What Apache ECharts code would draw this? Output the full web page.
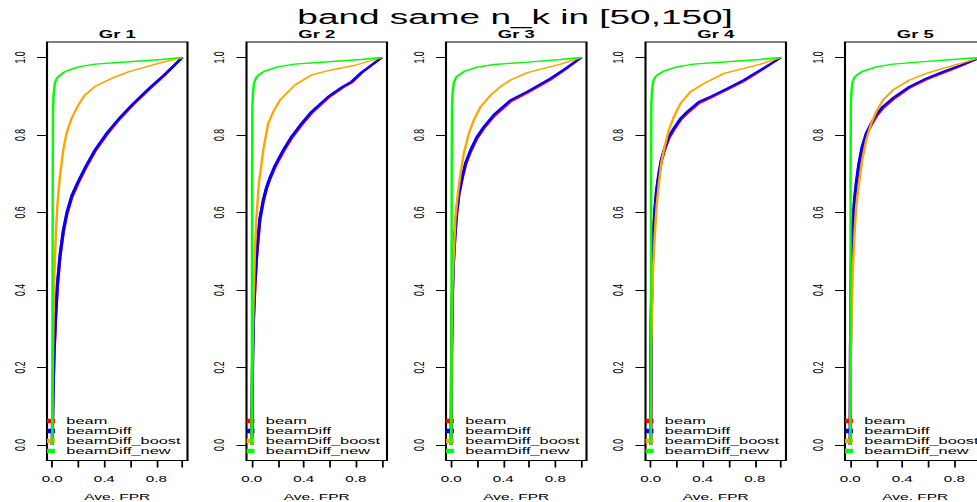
<!DOCTYPE html>
<html>
<head>
<meta charset="utf-8">
<script src="https://cdn.jsdelivr.net/npm/echarts@6/dist/echarts.min.js"></script>
<style>
  html, body { margin: 0; padding: 0; overflow: hidden; background: #fff; }
  #wrap { width: 977px; height: 502px; overflow: hidden; }
  /* the plot device is wider than tall: text and lines are drawn on a narrow
     canvas and stretched horizontally */
  #chart { width: 555px; height: 502px; transform: scaleX(1.76036); transform-origin: 0 0; }
</style>
</head>
<body>
<div id="wrap"><div id="chart"></div></div>
<script>
// ---- data ----
const mainTitle = 'band same n_k in [50,150]';
const groupTitles = ['Gr 1', 'Gr 2', 'Gr 3', 'Gr 4', 'Gr 5'];
const methodNames = ['beam', 'beamDiff', 'beamDiff_boost', 'beamDiff_new'];
const methodColors = ['#ff0000', '#0000ff', '#ffa500', '#00ff00'];
const xTicks = [0, 0.2, 0.4, 0.6, 0.8, 1];
const xTickLabels = [0, 0.4, 0.8];
const yTicks = [0, 0.2, 0.4, 0.6, 0.8, 1];
const xTitle = 'Ave. FPR';

// ROC curves: [Ave. FPR, Ave. TPR]
const gr1Beam = [[0,0],[0.003,0.066],[0.008,0.155],[0.015,0.24],[0.026,0.326],[0.04,0.41],[0.06,0.485],[0.085,0.548],[0.113,0.595],[0.15,0.638],[0.2,0.676],[0.26,0.716],[0.33,0.758],[0.42,0.801],[0.52,0.842],[0.62,0.877],[0.75,0.919],[0.86,0.953],[1,1]];
const gr1BeamDiff = [[0,0],[0.003,0.07],[0.008,0.16],[0.015,0.245],[0.026,0.33],[0.04,0.415],[0.06,0.49],[0.085,0.553],[0.113,0.6],[0.15,0.643],[0.2,0.68],[0.26,0.72],[0.33,0.762],[0.42,0.805],[0.52,0.845],[0.62,0.88],[0.75,0.922],[0.86,0.955],[1,1]];
const gr1Boost = [[0,0],[0.003,0.159],[0.008,0.288],[0.015,0.417],[0.028,0.546],[0.041,0.624],[0.059,0.692],[0.085,0.761],[0.11,0.804],[0.149,0.843],[0.2,0.877],[0.251,0.903],[0.328,0.925],[0.456,0.946],[0.585,0.963],[0.713,0.975],[0.85,0.988],[1,1]];
const gr1New = [[0,0],[0.002,0.3],[0.004,0.7],[0.006,0.86],[0.01,0.9],[0.02,0.933],[0.035,0.946],[0.059,0.954],[0.09,0.962],[0.123,0.967],[0.2,0.976],[0.33,0.983],[0.59,0.989],[0.84,0.995],[1,1]];

const gr2Beam = [[0,0],[0.002,0.068],[0.007,0.222],[0.014,0.326],[0.025,0.412],[0.037,0.481],[0.045,0.515],[0.063,0.58],[0.089,0.628],[0.114,0.661],[0.14,0.686],[0.178,0.716],[0.243,0.757],[0.307,0.792],[0.384,0.826],[0.46,0.856],[0.589,0.896],[0.7,0.922],[0.768,0.935],[0.845,0.96],[1,1]];
const gr2BeamDiff = [[0,0],[0.002,0.073],[0.007,0.228],[0.014,0.331],[0.025,0.417],[0.037,0.486],[0.045,0.52],[0.063,0.585],[0.089,0.632],[0.114,0.665],[0.14,0.69],[0.178,0.72],[0.243,0.761],[0.307,0.796],[0.384,0.83],[0.46,0.86],[0.589,0.899],[0.7,0.925],[0.768,0.938],[0.845,0.962],[1,1]];
const gr2Boost = [[0,0],[0.002,0.073],[0.007,0.245],[0.014,0.374],[0.025,0.503],[0.037,0.589],[0.055,0.675],[0.089,0.761],[0.127,0.83],[0.166,0.86],[0.217,0.89],[0.332,0.929],[0.46,0.955],[0.589,0.966],[0.794,0.98],[1,1]];
const gr2New = [[0,0],[0.002,0.32],[0.003,0.7],[0.005,0.87],[0.009,0.905],[0.018,0.935],[0.035,0.948],[0.06,0.957],[0.1,0.965],[0.2,0.976],[0.33,0.983],[0.59,0.989],[0.84,0.995],[1,1]];

const gr3Beam = [[0,0],[0.003,0.24],[0.008,0.369],[0.015,0.455],[0.028,0.534],[0.041,0.594],[0.059,0.645],[0.085,0.688],[0.11,0.723],[0.149,0.757],[0.2,0.792],[0.251,0.817],[0.328,0.848],[0.456,0.886],[0.585,0.909],[0.764,0.943],[0.88,0.97],[1,1]];
const gr3BeamDiff = [[0,0],[0.003,0.245],[0.008,0.374],[0.015,0.46],[0.028,0.538],[0.041,0.598],[0.059,0.649],[0.085,0.692],[0.11,0.727],[0.149,0.761],[0.2,0.796],[0.251,0.821],[0.328,0.852],[0.456,0.89],[0.585,0.912],[0.764,0.946],[0.88,0.972],[1,1]];
const gr3Boost = [[0,0],[0.003,0.245],[0.01,0.417],[0.021,0.503],[0.033,0.589],[0.051,0.649],[0.072,0.701],[0.097,0.753],[0.136,0.804],[0.174,0.839],[0.226,0.873],[0.303,0.903],[0.379,0.925],[0.456,0.942],[0.585,0.961],[0.713,0.972],[0.841,0.983],[1,1]];
const gr3New = [[0,0],[0.002,0.3],[0.004,0.72],[0.006,0.87],[0.01,0.905],[0.02,0.935],[0.04,0.95],[0.06,0.955],[0.1,0.964],[0.2,0.975],[0.33,0.982],[0.59,0.988],[0.84,0.995],[1,1]];

const gr4Beam = [[0,0],[0.004,0.326],[0.012,0.455],[0.019,0.534],[0.032,0.602],[0.045,0.654],[0.063,0.697],[0.081,0.731],[0.107,0.762],[0.14,0.792],[0.178,0.813],[0.23,0.839],[0.281,0.856],[0.371,0.882],[0.46,0.896],[0.589,0.917],[0.717,0.939],[0.845,0.966],[1,1]];
const gr4BeamDiff = [[0,0],[0.004,0.331],[0.012,0.46],[0.019,0.538],[0.032,0.606],[0.045,0.658],[0.063,0.701],[0.081,0.735],[0.107,0.766],[0.14,0.796],[0.178,0.817],[0.23,0.843],[0.281,0.86],[0.371,0.886],[0.46,0.899],[0.589,0.92],[0.717,0.942],[0.845,0.968],[1,1]];
const gr4Boost = [[0,0],[0.004,0.245],[0.012,0.374],[0.019,0.46],[0.032,0.546],[0.045,0.615],[0.063,0.675],[0.081,0.727],[0.107,0.77],[0.14,0.813],[0.178,0.847],[0.23,0.882],[0.307,0.912],[0.409,0.933],[0.563,0.959],[0.717,0.972],[0.845,0.983],[1,1]];
const gr4New = [[0,0],[0.002,0.33],[0.003,0.72],[0.005,0.88],[0.009,0.91],[0.018,0.937],[0.035,0.95],[0.06,0.957],[0.1,0.965],[0.2,0.976],[0.33,0.983],[0.59,0.989],[0.84,0.995],[1,1]];

const gr5Beam = [[0,0],[0.002,0.24],[0.005,0.369],[0.01,0.481],[0.021,0.568],[0.033,0.628],[0.046,0.671],[0.067,0.723],[0.092,0.766],[0.123,0.8],[0.162,0.826],[0.2,0.848],[0.251,0.869],[0.328,0.891],[0.456,0.922],[0.585,0.943],[0.713,0.96],[0.85,0.978],[1,1]];
const gr5BeamDiff = [[0,0],[0.002,0.245],[0.005,0.374],[0.01,0.486],[0.021,0.572],[0.033,0.632],[0.046,0.675],[0.067,0.727],[0.092,0.77],[0.123,0.804],[0.162,0.83],[0.2,0.852],[0.251,0.873],[0.328,0.895],[0.456,0.925],[0.585,0.946],[0.713,0.963],[0.85,0.98],[1,1]];
const gr5Boost = [[0,0],[0.005,0.245],[0.013,0.374],[0.021,0.46],[0.033,0.546],[0.046,0.615],[0.067,0.675],[0.092,0.735],[0.123,0.787],[0.162,0.83],[0.2,0.86],[0.251,0.89],[0.328,0.916],[0.456,0.942],[0.585,0.959],[0.713,0.972],[0.85,0.985],[1,1]];
const gr5New = [[0,0],[0.002,0.32],[0.003,0.72],[0.005,0.88],[0.009,0.91],[0.018,0.937],[0.035,0.95],[0.06,0.957],[0.1,0.965],[0.2,0.976],[0.33,0.983],[0.59,0.99],[0.84,0.996],[1,1]];

const panelCurves = [
  [gr1Beam, gr1BeamDiff, gr1Boost, gr1New],
  [gr2Beam, gr2BeamDiff, gr2Boost, gr2New],
  [gr3Beam, gr3BeamDiff, gr3Boost, gr3New],
  [gr4Beam, gr4BeamDiff, gr4Boost, gr4New],
  [gr5Beam, gr5BeamDiff, gr5Boost, gr5New]
];

// ---- layout (in canvas units before the horizontal stretch) ----
const FONT = '"Liberation Sans", Arial, Helvetica, sans-serif';
const boxLeft0 = 26.7, boxStep = 113.33, boxW = 79.81, boxTop = 42, boxH = 418.5;
const lineWidths = [1.8, 1.8, 1.4, 1.4];
const fmt = v => Number(v).toFixed(1);

const chart = echarts.init(document.getElementById('chart'), null, { renderer: 'svg' });

const grid = [], xAxis = [], yAxis = [], series = [], legend = [];
const title = [{
  text: mainTitle, left: 292.6, top: 6, textAlign: 'center', padding: 0,
  textStyle: { fontFamily: FONT, fontSize: 21, fontWeight: 'normal', color: '#000' }
}];

groupTitles.forEach((gt, i) => {
  const left = boxLeft0 + boxStep * i;
  // fixed plot boxes: the last panel runs past the right edge of the device
  grid.push({ left: left, top: boxTop, width: boxW, height: boxH, show: true,
              outerBoundsMode: 'none', containLabel: false,
              borderColor: '#000', borderWidth: 1.2, backgroundColor: 'transparent' });
  title.push({ text: gt, left: left + boxW / 2, top: 28.5, textAlign: 'center', padding: 0,
               textStyle: { fontFamily: FONT, fontSize: 10.5, fontWeight: 'bold', color: '#000' } });
  xAxis.push({
    gridIndex: i, type: 'value', min: -0.04, max: 1.04,
    splitLine: { show: false },
    axisLine: { show: false, onZero: false },
    axisTick: { show: true, customValues: xTicks, length: 7, lineStyle: { color: '#000', width: 1 } },
    axisLabel: { customValues: xTickLabels, formatter: fmt, margin: 14.5, fontSize: 8.6, color: '#000', fontFamily: FONT },
    name: xTitle, nameLocation: 'middle', nameGap: 32.5,
    nameTextStyle: { fontSize: 8.8, color: '#000', fontFamily: FONT }
  });
  yAxis.push({
    gridIndex: i, type: 'value', min: -0.04, max: 1.04,
    splitLine: { show: false },
    axisLine: { show: false, onZero: false },
    axisTick: { show: true, customValues: yTicks, length: 5.7, lineStyle: { color: '#000', width: 1 } },
    axisLabel: { customValues: yTicks, formatter: fmt, rotate: 90, margin: 11, fontSize: 8.6, color: '#000', fontFamily: FONT }
  });
  panelCurves[i].forEach((curve, k) => {
    series.push({
      name: methodNames[k], type: 'line', xAxisIndex: i, yAxisIndex: i,
      data: curve, showSymbol: false, symbol: 'none', silent: true, animation: false,
      lineStyle: { color: methodColors[k], width: lineWidths[k] },
      itemStyle: { color: methodColors[k] }, z: 2 + k
    });
  });
  legend.push({
    data: methodNames, orient: 'vertical', left: left, top: 416, padding: 0,
    itemGap: 0, itemWidth: 4.5, itemHeight: 4.5, icon: 'rect', selectedMode: false,
    textStyle: { fontSize: 9.3, lineHeight: 10, color: '#000', fontFamily: FONT, padding: [0, 0, 0, 1.5] }
  });
});

chart.setOption({
  animation: false,
  backgroundColor: '#fff',
  color: methodColors,
  title: title,
  legend: legend,
  grid: grid,
  xAxis: xAxis,
  yAxis: yAxis,
  series: series
});
</script>
</body>
</html>
